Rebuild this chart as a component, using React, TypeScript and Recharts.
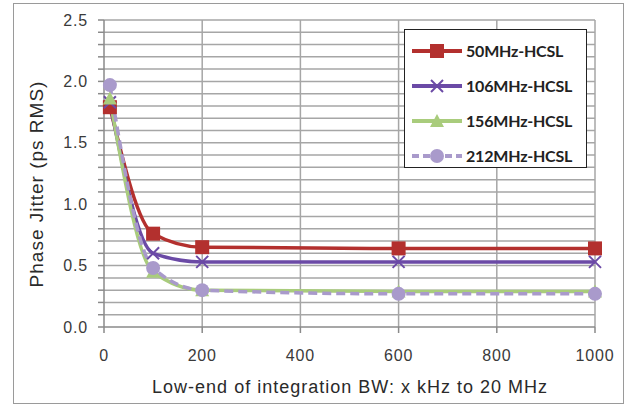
import React from 'react';
import {
  LineChart, Line, XAxis, YAxis, ReferenceLine,
} from 'recharts';

const bandwidths = [12, 100, 200, 600, 1000];
const jitter50 = [1.79, 0.76, 0.65, 0.64, 0.64];
const jitter106 = [1.83, 0.6, 0.53, 0.53, 0.53];
const jitter156 = [1.86, 0.45, 0.3, 0.29, 0.29];
const jitter212 = [1.97, 0.48, 0.3, 0.27, 0.27];

const xTicks = [0, 200, 400, 600, 800, 1000];
const yTicks = [0, 0.1, 0.2, 0.3, 0.4, 0.5, 0.6, 0.7, 0.8, 0.9, 1.0, 1.1, 1.2, 1.3, 1.4, 1.5, 1.6, 1.7, 1.8, 1.9, 2.0, 2.1, 2.2, 2.3, 2.4, 2.5];
const yLabelled = ['0.0', '0.5', '1.0', '1.5', '2.0', '2.5'];

const series = [
  { key: 's50', name: '50MHz-HCSL', values: jitter50, color: '#b3302e', marker: 'square', dash: undefined },
  { key: 's106', name: '106MHz-HCSL', values: jitter106, color: '#6b4aa6', marker: 'x', dash: undefined },
  { key: 's156', name: '156MHz-HCSL', values: jitter156, color: '#a9cc7c', marker: 'triangle', dash: undefined },
  { key: 's212', name: '212MHz-HCSL', values: jitter212, color: '#a99acb', marker: 'circle', dash: '9 5' },
];

const data = bandwidths.map((bw, i) => {
  const row: Record<string, number> = { bw };
  series.forEach((s) => { row[s.key] = s.values[i]; });
  return row;
});

const arial = 'Liberation Sans, Arial, sans-serif';
const tickFont = { fontFamily: arial, fontSize: 16, letterSpacing: 0.8, fill: '#3a3a3a' };
const gridColor = '#a6a6a6';

function Marker({ cx, cy, kind, color }: { cx: number; cy: number; kind: string; color: string }) {
  if (cx == null || cy == null) return null;
  if (kind === 'square') {
    return <rect x={cx - 7} y={cy - 7} width={14} height={14} fill={color} />;
  }
  if (kind === 'x') {
    return (
      <g stroke={color} strokeWidth={2}>
        <line x1={cx - 6} y1={cy - 6} x2={cx + 6} y2={cy + 6} />
        <line x1={cx - 6} y1={cy + 6} x2={cx + 6} y2={cy - 6} />
      </g>
    );
  }
  if (kind === 'triangle') {
    return <polygon points={`${cx},${cy - 7} ${cx + 7},${cy + 6} ${cx - 7},${cy + 6}`} fill={color} />;
  }
  return <circle cx={cx} cy={cy} r={7} fill={color} />;
}

function LegendBox() {
  return (
    <div
      style={{
        position: 'absolute',
        left: 404,
        top: 29,
        border: '1.5px solid #222',
        background: '#fff',
        width: 183,
        height: 139,
        boxSizing: 'border-box',
        padding: '3px 0 0 5px',
      }}
    >
      {series.map((s) => (
        <div key={s.key} style={{ display: 'flex', alignItems: 'center', height: 35 }}>
          <svg width={54} height={18}>
            <line x1={2} y1={9} x2={52} y2={9} stroke={s.color} strokeWidth={4} strokeDasharray={s.dash ? '7 4' : undefined} />
            <Marker cx={27} cy={9} kind={s.marker} color={s.color} />
          </svg>
          <span
            style={{
              fontFamily: 'Lato, sans-serif',
              fontWeight: 700,
              fontSize: 16,
              letterSpacing: -0.2,
              color: '#222',
              marginLeft: 2,
            }}
          >
            {s.name}
          </span>
        </div>
      ))}
    </div>
  );
}

const titleStyle: React.CSSProperties = {
  position: 'absolute',
  fontFamily: arial,
  color: '#2a2a2a',
  whiteSpace: 'nowrap',
  lineHeight: 1,
};

export default function App() {
  return (
    <div style={{ position: 'fixed', left: 0, top: 0, width: 628, height: 410, background: '#fff' }}>
      <div
        style={{
          position: 'absolute',
          left: 13,
          top: 3,
          width: 611,
          height: 401,
          border: '1.5px solid #9a9a9a',
          boxSizing: 'border-box',
        }}
      />
      <LineChart
        width={628}
        height={410}
        data={data}
        margin={{ top: 20, right: 33, bottom: 0, left: 0 }}
        style={{ position: 'absolute', left: 0, top: 0 }}
      >
        <XAxis
          dataKey="bw"
          type="number"
          domain={[0, 1000]}
          ticks={xTicks}
          height={83}
          tick={tickFont}
          tickSize={6}
          tickMargin={17}
          stroke="#8a8a8a"
          strokeWidth={1.5}
        />
        <YAxis
          type="number"
          domain={[0, 2.5]}
          ticks={yTicks}
          interval={0}
          width={104}
          tick={tickFont}
          tickFormatter={(v: number) => (yLabelled.includes(v.toFixed(1)) ? v.toFixed(1) : '')}
          tickSize={6}
          tickMargin={10}
          stroke="#8a8a8a"
          strokeWidth={1.5}
        />
        {yTicks.slice(1).map((v) => (
          <ReferenceLine key={`h${v}`} y={v} stroke={gridColor} strokeWidth={1.5} />
        ))}
        {xTicks.slice(1).map((v) => (
          <ReferenceLine key={`v${v}`} x={v} stroke={gridColor} strokeWidth={1.5} />
        ))}
        {series.map((s) => (
          <Line
            key={s.key}
            type="monotone"
            dataKey={s.key}
            name={s.name}
            stroke={s.color}
            strokeWidth={3.5}
            strokeDasharray={s.dash}
            isAnimationActive={false}
            dot={(p: any) => <Marker key={`${s.key}-${p.index}`} cx={p.cx} cy={p.cy} kind={s.marker} color={s.color} />}
            activeDot={false}
          />
        ))}
      </LineChart>
      <LegendBox />
      <div
        style={{
          ...titleStyle,
          left: 350,
          top: 387,
          fontSize: 18,
          letterSpacing: 1,
          transform: 'translate(-50%, -50%)',
        }}
      >
        Low-end of integration BW: x kHz to 20 MHz
      </div>
      <div
        style={{
          ...titleStyle,
          left: 36,
          top: 184,
          fontSize: 19,
          letterSpacing: 1,
          transform: 'translate(-50%, -50%) rotate(-90deg)',
        }}
      >
        Phase Jitter (ps RMS)
      </div>
    </div>
  );
}
